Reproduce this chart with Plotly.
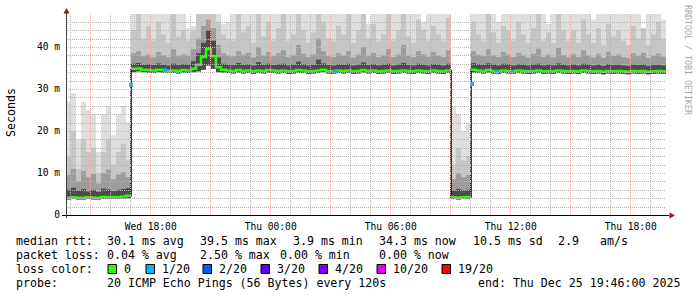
import math
import pandas as pd
import plotly.graph_objects as go

# ---------------- data ----------------
START = "2025-12-24 13:46:00"
END = "2025-12-25 19:46:00"
STEP = "15min"

median_ms = [
    4.1, 4.2, 4.1, 4.1, 4.2, 4.1, 4.1, 4.3, 4.2, 4.3, 4.2, 4.4, 4.6,
    34.8, 34.9, 34.6, 34.5, 34.4, 34.6, 34.5, 34.3, 34.4, 34.3,
    34.5, 34.4, 34.8, 35.8, 37.6, 39.5, 37.8, 35.2, 34.6, 34.4,
    34.3, 34.5, 34.3, 34.4, 34.2, 34.4, 34.3, 34.5, 34.4, 34.3,
    34.4, 34.2, 34.3, 34.5, 34.4, 34.2, 34.3, 34.4, 34.6, 34.3,
    34.2, 34.4, 34.3, 34.4, 34.2, 34.3, 34.5, 34.3, 34.4, 34.2,
    34.3, 34.4, 34.2, 34.3, 34.4, 34.3, 34.2, 34.4, 34.3, 34.2,
    34.4, 34.3, 34.2, 34.4,
    4.2, 4.1, 4.2, 4.3,
    34.6, 34.4, 34.3, 34.5, 34.3, 34.2, 34.4, 34.3, 34.2, 34.4,
    34.3, 34.2, 34.3, 34.4, 34.2, 34.3, 34.2, 34.4, 34.3, 34.2,
    34.3, 34.2, 34.4, 34.3, 34.2, 34.3, 34.1, 34.3, 34.2, 34.3,
    34.2, 34.1, 34.3, 34.2, 34.3, 34.1, 34.2, 34.3, 34.2,
]

smoke_min = [
    3.7, 3.8, 3.7, 3.7, 3.8, 3.7, 3.7, 3.8, 3.8, 3.8, 3.8, 3.9, 4.0,
    34.0, 34.2, 34.0, 33.9, 33.8, 34.0, 33.9, 33.8, 33.8, 33.7,
    33.9, 33.8, 34.0, 34.2, 34.6, 35.6, 34.8, 34.0, 33.9, 33.8,
    33.7, 33.9, 33.7, 33.8, 33.6, 33.8, 33.7, 33.9, 33.8, 33.7,
    33.8, 33.6, 33.7, 33.9, 33.8, 33.6, 33.7, 33.8, 34.0, 33.7,
    33.6, 33.8, 33.7, 33.8, 33.6, 33.7, 33.9, 33.7, 33.8, 33.6,
    33.7, 33.8, 33.6, 33.7, 33.8, 33.7, 33.6, 33.8, 33.7, 33.6,
    33.8, 33.7, 33.6, 33.8,
    3.8, 3.7, 3.8, 3.8,
    33.9, 33.8, 33.7, 33.9, 33.7, 33.6, 33.8, 33.7, 33.6, 33.8,
    33.7, 33.6, 33.7, 33.8, 33.6, 33.7, 33.6, 33.8, 33.7, 33.6,
    33.7, 33.6, 33.8, 33.7, 33.6, 33.7, 33.5, 33.7, 33.6, 33.7,
    33.6, 33.5, 33.7, 33.6, 33.7, 33.5, 33.6, 33.7, 33.6,
]

smoke_dark = [
    6.0, 6.5, 5.8, 6.2, 5.6, 6.0, 5.5, 6.3, 6.1, 5.7, 6.0, 6.2, 6.4,
    36.0, 36.2, 35.8, 35.9, 35.7, 36.1, 35.8, 35.6, 36.0, 35.7,
    35.9, 35.8, 36.6, 38.5, 41.0, 44.0, 41.5, 37.5, 36.0, 35.8,
    35.7, 36.2, 35.8, 35.9, 35.6, 36.4, 35.8, 36.0, 35.7, 35.9,
    36.0, 35.6, 35.8, 36.5, 35.9, 35.6, 35.8, 37.0, 36.1, 35.7,
    35.6, 35.9, 35.8, 36.0, 35.6, 35.8, 36.3, 35.7, 35.9, 35.6,
    35.8, 36.0, 35.6, 35.8, 36.2, 35.7, 35.6, 36.0, 35.8, 35.6,
    35.9, 35.8, 35.6, 36.0,
    5.8, 6.2, 5.9, 6.0,
    36.2, 35.9, 35.8, 36.1, 35.8, 35.6, 36.0, 35.9, 35.6, 35.9,
    35.8, 35.6, 35.8, 36.0, 35.6, 35.8, 35.6, 36.1, 35.8, 35.6,
    35.8, 35.6, 36.0, 35.8, 35.6, 35.8, 35.5, 35.9, 35.7, 35.8,
    35.6, 35.5, 35.8, 35.7, 35.8, 35.5, 35.7, 35.8, 35.6,
]

smoke_mid = [
    9.5, 11.0, 8.0, 10.5, 9.0, 9.8, 7.5, 10.0, 10.8, 8.5, 9.6, 10.2, 9.0,
    38.5, 39.0, 37.8, 38.2, 37.5, 38.8, 38.0, 37.6, 39.5, 37.8,
    38.2, 37.9, 39.5, 42.0, 45.0, 46.5, 44.5, 40.5, 38.5, 38.0,
    37.8, 39.0, 38.2, 38.6, 37.5, 40.0, 38.0, 38.8, 37.8, 38.5,
    39.2, 37.6, 38.0, 40.5, 38.4, 37.6, 38.2, 42.0, 39.0, 37.8,
    37.6, 38.5, 38.0, 39.0, 37.5, 38.2, 40.0, 37.8, 38.6, 37.6,
    38.0, 39.5, 37.6, 38.2, 40.5, 37.9, 37.6, 39.0, 38.3, 37.7,
    38.8, 38.0, 37.6, 39.2,
    8.5, 10.0, 9.0, 9.5,
    39.0, 38.2, 37.8, 39.5, 38.0, 37.6, 38.8, 38.2, 37.6, 38.6,
    38.0, 37.5, 38.4, 39.6, 37.6, 38.2, 37.5, 39.8, 38.1, 37.6,
    38.3, 37.6, 39.2, 38.0, 37.5, 38.4, 37.4, 38.9, 37.9, 38.2,
    37.6, 37.4, 38.5, 37.8, 38.6, 37.4, 37.9, 38.4, 37.7,
]

smoke_hi = [
    14.0, 20.0, 11.0, 18.0, 15.0, 16.0, 10.0, 15.0, 18.0, 12.0, 15.0, 17.0, 13.0,
    44.0, 48.0, 42.0, 45.0, 41.5, 46.0, 43.0, 41.0, 48.0, 42.5,
    44.0, 41.5, 44.0, 48.0, 48.0, 48.0, 48.0, 46.0, 43.0, 42.0,
    41.5, 48.0, 43.5, 45.0, 41.0, 48.0, 42.5, 46.0, 41.5, 44.5,
    48.0, 41.5, 43.0, 48.0, 44.0, 41.0, 43.5, 48.0, 46.0, 42.0,
    41.5, 45.0, 43.0, 48.0, 41.0, 44.0, 48.0, 42.0, 45.5, 41.5,
    43.0, 48.0, 41.5, 44.0, 48.0, 42.5, 41.0, 46.5, 44.0, 41.5,
    45.0, 43.0, 41.5, 47.0,
    12.0, 16.0, 13.0, 14.0,
    46.0, 43.0, 41.5, 48.0, 43.5, 41.0, 45.0, 44.0, 41.5, 46.0,
    43.0, 41.0, 44.5, 48.0, 41.5, 43.5, 41.0, 48.0, 44.0, 41.5,
    44.0, 41.0, 46.5, 43.0, 41.0, 44.5, 40.5, 45.5, 42.5, 44.0,
    41.5, 40.5, 45.0, 42.0, 44.5, 40.5, 43.0, 46.0, 42.0,
]

smoke_max = [
    27.0, 29.0, 18.0, 27.0, 25.0, 24.0, 15.0, 24.0, 26.0, 19.0, 24.0, 26.0, 22.0,
    48.0, 48.0, 48.0, 48.0, 48.0, 48.0, 48.0, 48.0, 48.0, 48.0,
    48.0, 44.5, 45.0, 48.0, 48.0, 48.0, 48.0, 48.0, 45.5, 46.0,
    48.0, 48.0, 48.0, 48.0, 48.0, 46.5, 48.0, 48.0, 48.0, 48.0,
    48.0, 48.0, 48.0, 48.0, 48.0, 48.0, 48.0, 48.0, 48.0, 48.0,
    48.0, 48.0, 48.0, 48.0, 48.0, 48.0, 48.0, 45.5, 48.0, 48.0,
    48.0, 48.0, 48.0, 48.0, 48.0, 48.0, 48.0, 48.0, 46.0, 48.0,
    48.0, 48.0, 48.0, 48.0,
    26.0, 24.0, 20.0, 22.0,
    48.0, 48.0, 48.0, 48.0, 48.0, 46.0, 48.0, 48.0, 48.0, 48.0,
    48.0, 48.0, 48.0, 48.0, 48.0, 45.5, 48.0, 48.0, 48.0, 48.0,
    48.0, 48.0, 48.0, 48.0, 46.5, 48.0, 48.0, 48.0, 48.0, 48.0,
    48.0, 48.0, 48.0, 48.0, 44.0, 48.0, 48.0, 48.0, 46.5,
]

# points where 1/20 loss was seen
loss_times = ["2025-12-24 17:01", "2025-12-24 18:43", "2025-12-25 03:13",
              "2025-12-25 10:04", "2025-12-25 11:19", "2025-12-25 12:04"]
loss_values = [31.0, 34.5, 34.1, 31.2, 34.0, 34.1]

loss_labels = ["0", "1/20", "2/20", "3/20", "4/20", "10/20", "19/20"]
loss_colors = ["#26ff00", "#00b8ff", "#0059ff", "#5e00ff", "#7e00ff", "#dd00ff", "#ff0000"]

y_tick_values = [0, 10, 20, 30, 40]
y_tick_labels = ["0", "10 m", "20 m", "30 m", "40 m"]

legend_rtt = [("median rtt:", 16), ("30.1 ms avg", 107), ("39.5 ms max", 200),
              ("3.9 ms min", 293), ("34.3 ms now", 379), ("10.5 ms sd", 473),
              ("2.9", 558), ("am/s", 600)]
legend_loss = [("packet loss:", 16), ("0.04 % avg", 107), ("2.50 % max", 200),
               ("0.00 % min", 280), ("0.00 % now", 379)]
legend_probe = [("probe:", 16), ("20 ICMP Echo Pings (56 Bytes) every 120s", 107),
                ("end: Thu Dec 25 19:46:00 2025", 478)]
loss_box_px = [108, 146, 203, 261, 319, 377, 442]

for arr in (smoke_min, smoke_dark, smoke_mid, smoke_hi, smoke_max):
    assert len(arr) == len(median_ms)

# ---------------- geometry ----------------
W, H = 697, 297
L, R, T, B = 66, 31, 14, 82
PW, PH = W - L - R, H - T - B          # 600 x 201
PX_PER_MS = 4.2
YMAX = PH / PX_PER_MS
MONO = "DejaVu Sans Mono"
MAJOR_GRID = "#f3a8a8"
MINOR_GRID = "#b4b4b4"


def px2paper(px, py):
    return (px - L) / PW, (H - B - py) / PH


starts = pd.date_range(START, periods=len(median_ms), freq=STEP)
step_ms = pd.Timedelta(STEP).total_seconds() * 1000
centers = starts + pd.Timedelta(STEP) / 2

fig = go.Figure()

# smoke layers (light to dark)
layers = [(smoke_max, "#dedede"), (smoke_hi, "#c6c6c6"),
          (smoke_mid, "#9c9c9c"), (smoke_dark, "#4c4c4c")]
for top, col in layers:
    fig.add_trace(go.Bar(
        x=centers, base=smoke_min,
        y=[t - b for t, b in zip(top, smoke_min)],
        width=step_ms, marker=dict(color=col, line=dict(width=0)),
        hoverinfo="skip"))

# median line (black underneath for big jumps)
xs = list(starts) + [pd.Timestamp(END)]
ys = median_ms + [median_ms[-1]]
fig.add_trace(go.Scatter(x=xs, y=ys, mode="lines", line_shape="hv",
                         line=dict(color="#000000", width=1.5), hoverinfo="skip"))

gx, gy = [], []
for i in range(len(xs)):
    if i > 0 and abs(ys[i] - ys[i - 1]) > 5:
        gx += [xs[i], xs[i]]
        gy += [ys[i - 1], None]
    gx.append(xs[i])
    gy.append(ys[i])
fig.add_trace(go.Scatter(x=gx, y=gy, mode="lines", line_shape="hv",
                         line=dict(color=loss_colors[0], width=2.5),
                         connectgaps=False, hoverinfo="skip"))

fig.add_trace(go.Scatter(x=loss_times, y=loss_values, mode="markers",
                         marker=dict(symbol="square", size=4, color=loss_colors[1],
                                     line=dict(width=0)),
                         hoverinfo="skip"))

shapes = []
# grid (drawn above the smoke, like rrdtool)
t0 = pd.Timestamp(START)
total_min = (pd.Timestamp(END) - t0).total_seconds() / 60
h = t0.ceil("h")
while h < pd.Timestamp(END):
    mins = (h - t0).total_seconds() / 60
    col = math.floor(L + mins / total_min * PW) + 0.5
    major = h.hour % 3 == 0
    xp = (col - L) / PW
    shapes.append(dict(type="line", xref="paper", yref="paper", x0=xp, x1=xp,
                       y0=0, y1=1, layer="above",
                       line=dict(color=MAJOR_GRID if major else MINOR_GRID,
                                 width=1, dash="1px,1px")))
    h += pd.Timedelta(hours=1)
v = 2
while v < YMAX:
    row = round(H - B - v * PX_PER_MS) + 0.5
    major = v % 10 == 0
    yp = (H - B - row) / PH
    shapes.append(dict(type="line", xref="paper", yref="paper", x0=0, x1=1,
                       y0=yp, y1=yp, layer="above",
                       line=dict(color=MAJOR_GRID if major else MINOR_GRID,
                                 width=1, dash="1px,1px")))
    v += 2

# axes lines and arrows
x0p, y0p = px2paper(62, 215.5)
x1p, _ = px2paper(669, 215.5)
shapes.append(dict(type="line", xref="paper", yref="paper", x0=x0p, x1=x1p,
                   y0=y0p, y1=y0p, layer="above", line=dict(color="#000000", width=1)))
ax, ay0 = px2paper(66.5, 218)
_, ay1 = px2paper(66.5, 12)
shapes.append(dict(type="line", xref="paper", yref="paper", x0=ax, x1=ax,
                   y0=ay0, y1=ay1, layer="above", line=dict(color="#404040", width=1)))


def tri(pts):
    p = [px2paper(a, b) for a, b in pts]
    return "M {} {} L {} {} L {} {} Z".format(p[0][0], p[0][1], p[1][0], p[1][1], p[2][0], p[2][1])


shapes.append(dict(type="path", xref="paper", yref="paper", layer="above",
                   path=tri([(66.5, 8), (63.5, 13.5), (69.5, 13.5)]),
                   fillcolor="#a01010", line=dict(width=0)))
shapes.append(dict(type="path", xref="paper", yref="paper", layer="above",
                   path=tri([(675, 215.5), (669.5, 212.5), (669.5, 218.5)]),
                   fillcolor="#a01010", line=dict(width=0)))

# loss colour boxes
for bx, c in zip(loss_box_px, loss_colors):
    xa, ya = px2paper(bx, 273.5)
    xb, yb = px2paper(bx + 8.5, 264.5)
    shapes.append(dict(type="rect", xref="paper", yref="paper", x0=xa, x1=xb,
                       y0=ya, y1=yb, fillcolor=c, line=dict(color="#000000", width=1)))

annotations = []


def ann(text, px, py, size=11.6, color="#000000", angle=0, xanchor="left"):
    xp, yp = px2paper(px, py)
    annotations.append(dict(text=text, x=xp, y=yp, xref="paper", yref="paper",
                            xanchor=xanchor, yanchor="middle", showarrow=False,
                            borderpad=0, textangle=angle,
                            font=dict(family=MONO, size=size, color=color)))


for txt, px in legend_rtt:
    ann(txt, px - 1, 241)
for txt, px in legend_loss:
    ann(txt, px - 1, 255)
ann("loss color:", 15, 269)
for bx, lab in zip(loss_box_px, loss_labels):
    ann(lab, bx + 15, 269)
for txt, px in legend_probe:
    ann(txt, px - 1, 283)

ann("Seconds", 11, 113, xanchor="center", angle=-90)
ann("RRDTOOL / TOBI OETIKER", 688, 60, size=8.3, color="#a8a8a8", angle=90, xanchor="center")

fig.update_layout(
    width=W, height=H, margin=dict(l=L, r=R, t=T, b=B, autoexpand=False),
    paper_bgcolor="white", plot_bgcolor="white", showlegend=False,
    barmode="overlay", shapes=shapes, annotations=annotations,
    xaxis=dict(type="date", range=[START, END], showgrid=False, zeroline=False,
               showline=False, ticks="", tick0="2025-12-24 18:00",
               dtick=6 * 3600 * 1000, tickformat="%a %H:%M",
               tickfont=dict(family=MONO, size=9.6, color="#000000"),
               ticklabelstandoff=4, fixedrange=True),
    yaxis=dict(range=[0, YMAX], showgrid=False, zeroline=False, showline=False,
               ticks="", tickvals=y_tick_values, ticktext=y_tick_labels,
               tickfont=dict(family=MONO, size=9.6, color="#000000"),
               ticklabelstandoff=5, fixedrange=True),
)

fig.write_html("out.html")
